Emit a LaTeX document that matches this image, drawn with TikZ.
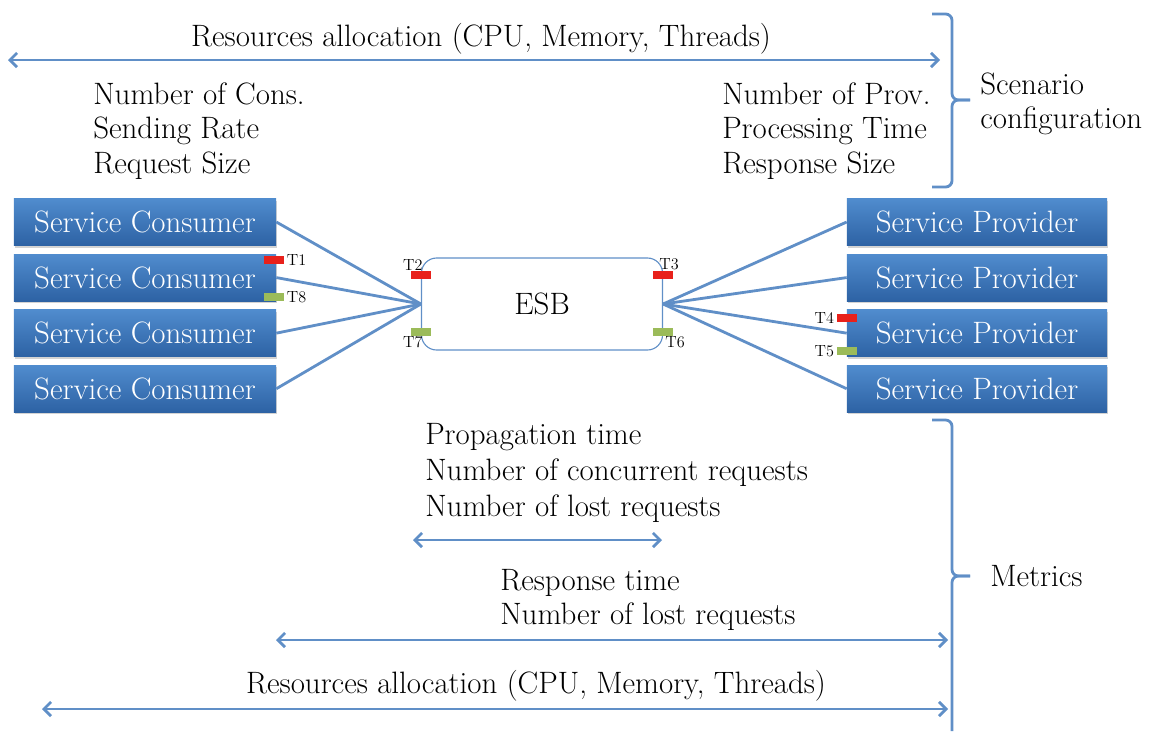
\documentclass[tikz,border=0pt]{standalone}
\usepackage{tikz}
\usetikzlibrary{positioning,calc,shadows,arrows.meta}

\definecolor{esbblue}{RGB}{96,143,199}
\definecolor{boxtop}{RGB}{80,140,206}
\definecolor{boxbot}{RGB}{45,98,164}
\definecolor{tagred}{RGB}{232,33,27}
\definecolor{taggreen}{RGB}{155,187,89}

\begin{document}
\begin{tikzpicture}[x=0.025cm, y=-0.025cm, node distance=0.2cm]
    \tikzset{svcbox/.style={rectangle, top color=boxtop, bottom color=boxbot, minimum width=6.55cm, minimum height=1.175cm, text=white, font=\fontsize{22}{24}\selectfont, drop shadow={shadow xshift=0.5pt, shadow yshift=-1.5pt, opacity=0.35}}}
    \tikzset{txt/.style={align=left, inner sep=0pt, font=\fontsize{22}{24.5}\selectfont}}
    \tikzset{tlabel/.style={inner sep=0.5pt, font=\fontsize{11.5}{12}\selectfont}}
    \tikzset{redtag/.style={rectangle, fill=tagred, minimum width=0.5cm, minimum height=0.2cm, inner sep=0pt}}
    \tikzset{greentag/.style={redtag, fill=taggreen}}
    \tikzset{link/.style={draw=esbblue, line width=2pt}}
    \tikzset{span/.style={draw=esbblue, line width=2pt, {Straight Barb[length=5pt, width=10pt]}-{Straight Barb[length=5pt, width=10pt]}}}
    \tikzset{bracket/.style={draw=esbblue, line width=2pt, rounded corners=0.16cm}}

    \useasboundingbox (0,0) rectangle (1162,731);

    % Scenario configuration
    \coordinate (ra1) at (8,60);
    \coordinate (ra2) at (940,60);
    \draw[span] (ra1) -- (ra2);
    \node[txt] (ratop) at (481,39) {Resources allocation (CPU, Memory, Threads)};
    \node[txt, anchor=west] (conscfg) at (93,131) {Number of Cons.\\Sending Rate\\Request Size};
    \node[txt, anchor=west] (provcfg) at (722,131) {Number of Prov.\\Processing Time\\Response Size};
    \coordinate (sb1) at (932,14);
    \coordinate (sbtip) at (970,100);
    \coordinate (sb2) at (932,187);
    \draw[bracket] (sb1) -- (952,14) -- (952,100) -- (sbtip);
    \draw[bracket] (sbtip) -- (952,100) -- (952,187) -- (sb2);
    \node[txt, anchor=west] (scen) at (980,104) {Scenario\\configuration};

    % Consumers
    \node[svcbox] (c1) at (145,222) {Service Consumer};
    \node[svcbox, below=of c1] (c2) {Service Consumer};
    \node[svcbox, below=of c2] (c3) {Service Consumer};
    \node[svcbox, below=of c3] (c4) {Service Consumer};

    % Providers
    \node[svcbox, minimum width=6.5cm] (p1) at (977,222) {Service Provider};
    \node[svcbox, minimum width=6.5cm, below=of p1] (p2) {Service Provider};
    \node[svcbox, minimum width=6.5cm, below=of p2] (p3) {Service Provider};
    \node[svcbox, minimum width=6.5cm, below=of p3] (p4) {Service Provider};

    % ESB
    \node[draw=esbblue, line width=0.8pt, rounded corners=0.38cm, minimum width=6.025cm, minimum height=2.3cm, font=\fontsize{22}{24}\selectfont] (esb) at (542,304) {ESB};

    % Links
    \foreach \i in {1,...,4} {
        \draw[link] (c\i.east) -- (esb.west);
        \draw[link] (esb.east) -- (p\i.west);
    }

    % Timestamps
    \node[redtag] (t1) at ($(c2.north east)+(-2,6)$) {};
    \node[greentag] (t8) at ($(c2.south east)+(-2,-4)$) {};
    \node[redtag] (t2) at ($(esb.north west)+(0,18)$) {};
    \node[greentag] (t7) at ($(esb.south west)+(0,-19)$) {};
    \node[redtag] (t3) at ($(esb.north east)+(0,18)$) {};
    \node[greentag] (t6) at ($(esb.south east)+(0,-19)$) {};
    \node[redtag] (t4) at ($(p3.north west)+(0,9)$) {};
    \node[greentag] (t5) at ($(p3.south west)+(0,-6)$) {};
    \node[tlabel, right=1pt of t1] (lt1) {T1};
    \node[tlabel, right=1pt of t8] (lt8) {T8};
    \node[tlabel, above=0pt of t2, xshift=-0.2cm] (lt2) {T2};
    \node[tlabel, below=0pt of t7, xshift=-0.2cm] (lt7) {T7};
    \node[tlabel, above=0pt of t3, xshift=0.15cm] (lt3) {T3};
    \node[tlabel, below=0pt of t6, xshift=0.3cm] (lt6) {T6};
    \node[tlabel, left=1pt of t4] (lt4) {T4};
    \node[tlabel, left=1pt of t5] (lt5) {T5};

    % Metrics
    \coordinate (mb1) at (932,420);
    \coordinate (mbtip) at (970,576);
    \coordinate (mb2) at (952,731);
    \draw[bracket] (mb1) -- (952,420) -- (952,576) -- (mbtip);
    \draw[bracket] (mbtip) -- (952,576) -- (mb2);
    \node[txt, anchor=west] (metr) at (990,576) {Metrics};
    \node[txt, anchor=west, font=\fontsize{22}{25.5}\selectfont] (esbmet) at (425,473) {Propagation time\\Number of concurrent requests\\Number of lost requests};
    \coordinate (pa1) at (413,540);
    \coordinate (pa2) at (662,540);
    \draw[span] (pa1) -- (pa2);
    \node[txt, anchor=west] (respmet) at (500,600) {Response time\\Number of lost requests};
    \coordinate (rt1) at (276,640);
    \coordinate (rt2) at (948,640);
    \draw[span] (rt1) -- (rt2);
    \node[txt] (rabot) at (536,686) {Resources allocation (CPU, Memory, Threads)};
    \coordinate (rb1) at (42,709);
    \coordinate (rb2) at (948,709);
    \draw[span] (rb1) -- (rb2);
\end{tikzpicture}
\end{document}
